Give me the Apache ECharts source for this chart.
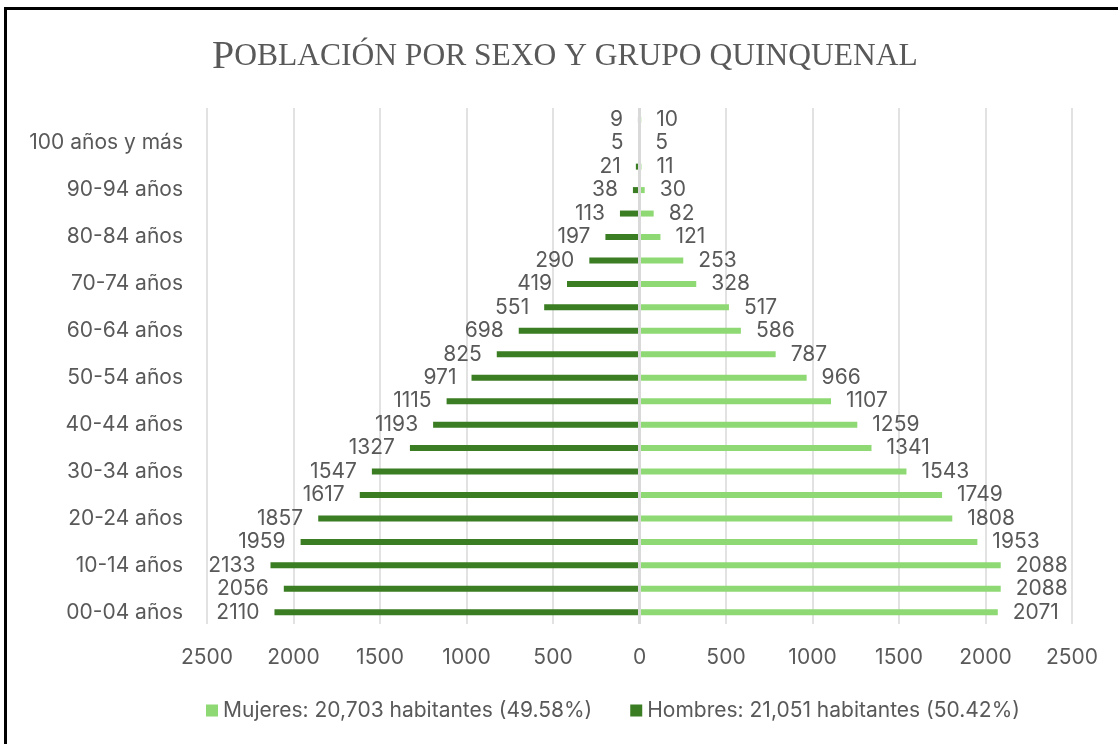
<!DOCTYPE html>
<html>
<head>
<meta charset="utf-8">
<script src="https://cdn.jsdelivr.net/npm/echarts@6/dist/echarts.min.js"></script>
<style>
  html, body { margin: 0; padding: 0; background: #fff; }
  #chart { width: 1118px; height: 744px; }
</style>
</head>
<body>
<div id="chart"></div>
<script>
// grupos de edad (de abajo hacia arriba)
const grupos = [
  '00-04 años', '05-09 años', '10-14 años', '15-19 años', '20-24 años',
  '25-29 años', '30-34 años', '35-39 años', '40-44 años', '45-49 años',
  '50-54 años', '55-59 años', '60-64 años', '65-69 años', '70-74 años',
  '75-79 años', '80-84 años', '85-89 años', '90-94 años', '95-99 años',
  '100 años y más', 'No especificado'
];
const hombres = [2110, 2056, 2133, 1959, 1857, 1617, 1547, 1327, 1193, 1115,
  971, 825, 698, 551, 419, 290, 197, 113, 38, 21, 5, 9];
const mujeres = [2071, 2088, 2088, 1953, 1808, 1749, 1543, 1341, 1259, 1107,
  966, 787, 586, 517, 328, 253, 121, 82, 30, 11, 5, 10];

const nombreMujeres = 'Mujeres: 20,703 habitantes (49.58%)';
const nombreHombres = 'Hombres: 21,051 habitantes (50.42%)';

const gris = '#595959';
const fuente = 'Inter';
const tam = 21;

let chart = echarts.init(document.getElementById('chart'));

let option = {
  animation: false,
  title: {
    text: '{a|P}{b|OBLACIÓN POR SEXO Y GRUPO QUINQUENAL}',
    left: 207,
    top: 32,
    textStyle: {
      fontWeight: 'normal',
      rich: {
        a: { fontFamily: 'Liberation Serif', fontSize: 40, fontWeight: 'normal', color: gris },
        b: { fontFamily: 'Liberation Serif', fontSize: 31.5, fontWeight: 'normal', color: gris }
      }
    }
  },
  graphic: [{
    type: 'rect',
    shape: { x: 5.5, y: 8.5, width: 1200, height: 800 },
    style: { fill: 'none', stroke: '#000', lineWidth: 3 },
    silent: true
  }],
  legend: {
    data: [nombreMujeres, nombreHombres],
    bottom: 18,
    left: 201,
    icon: 'rect',
    itemWidth: 12,
    itemHeight: 12,
    itemGap: 38,
    textStyle: { fontFamily: fuente, fontSize: tam, color: gris }
  },
  grid: { left: 207, right: 46, top: 108, bottom: 120 },
  xAxis: {
    type: 'value',
    min: -2500,
    max: 2500,
    interval: 500,
    axisLine: { show: false },
    axisTick: { show: false },
    splitLine: { lineStyle: { color: '#d9d9d9', width: 1.5 } },
    axisLabel: {
      margin: 23,
      fontFamily: fuente,
      fontSize: tam,
      color: gris,
      formatter: v => Math.abs(v)
    }
  },
  yAxis: {
    type: 'category',
    data: grupos,
    axisLine: { show: false },
    axisTick: { show: false },
    axisLabel: {
      interval: 1,
      margin: 24,
      fontFamily: fuente,
      fontSize: tam,
      color: gris
    }
  },
  series: [
    {
      name: nombreHombres,
      type: 'bar',
      barWidth: 6,
      barGap: '-100%',
      itemStyle: { color: '#3a7d22' },
      label: {
        show: true,
        position: 'left',
        distance: 15,
        fontFamily: fuente,
        fontSize: tam,
        color: gris,
        formatter: p => Math.abs(p.value)
      },
      data: hombres.map(v => -v),
      markLine: {
        silent: true,
        symbol: 'none',
        label: { show: false },
        lineStyle: { color: '#d9d9d9', width: 3, type: 'solid' },
        data: [{ xAxis: 0 }]
      }
    },
    {
      name: nombreMujeres,
      type: 'bar',
      barWidth: 6,
      barGap: '-100%',
      itemStyle: { color: '#8ed973' },
      label: {
        show: true,
        position: 'right',
        distance: 15,
        fontFamily: fuente,
        fontSize: tam,
        color: gris
      },
      data: mujeres
    }
  ]
};

chart.setOption(option);
</script>
</body>
</html>
